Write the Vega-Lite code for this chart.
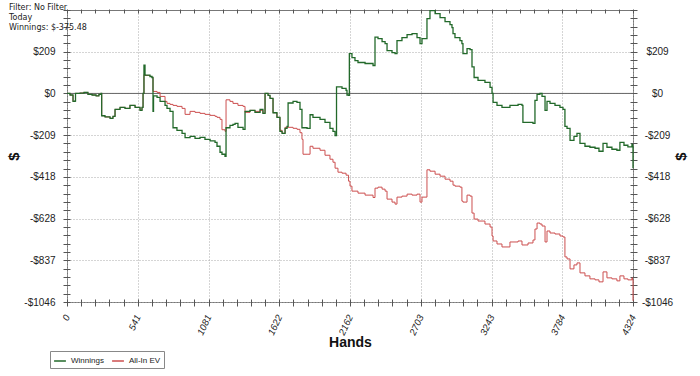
{
  "$schema": "https://vega.github.io/schema/vega-lite/v6.json",
  "width": 566,
  "height": 292,
  "autosize": {"type": "none"},
  "padding": {"left": 67, "top": 10, "right": 67, "bottom": 74},
  "background": "white",
  "config": {"view": {"stroke": "#777", "strokeWidth": 1}, "font": "Liberation Sans"},
  "title": {
    "text": ["Filter: No Filter", "Today", "Winnings: $-375.48"],
    "anchor": "start",
    "frame": "group",
    "orient": "top",
    "offset": -22,
    "dx": -58,
    "dy": 5,
    "font": "DejaVu Sans",
    "fontSize": 8,
    "fontWeight": "normal",
    "lineHeight": 10,
    "color": "#222"
  },
  "datasets": {
    "win": [
      {"h":0,"v":0},{"h":23,"v":-8},{"h":46,"v":-40},{"h":61,"v":-38},{"h":65,"v":0},{"h":99,"v":2},{"h":130,"v":5},{"h":160,"v":-5},{"h":191,"v":-8},{"h":222,"v":-12},{"h":244,"v":-5},{"h":260,"v":0},{"h":265,"v":-112},{"h":290,"v":-118},{"h":329,"v":-125},{"h":351,"v":-115},{"h":367,"v":-80},{"h":405,"v":-70},{"h":443,"v":-75},{"h":481,"v":-60},{"h":520,"v":-70},{"h":558,"v":-85},{"h":573,"v":-70},{"h":581,"v":0},{"h":588,"v":142},{"h":596,"v":92},{"h":634,"v":85},{"h":649,"v":80},{"h":657,"v":-90},{"h":661,"v":-12},{"h":688,"v":-20},{"h":711,"v":-40},{"h":749,"v":-60},{"h":764,"v":-75},{"h":787,"v":-90},{"h":810,"v":-172},{"h":840,"v":-185},{"h":879,"v":-200},{"h":902,"v":-222},{"h":940,"v":-215},{"h":978,"v":-225},{"h":1016,"v":-220},{"h":1054,"v":-230},{"h":1093,"v":-238},{"h":1131,"v":-245},{"h":1146,"v":-265},{"h":1169,"v":-295},{"h":1184,"v":-305},{"h":1207,"v":-315},{"h":1215,"v":-172},{"h":1245,"v":-160},{"h":1268,"v":-155},{"h":1284,"v":-150},{"h":1306,"v":-170},{"h":1345,"v":-180},{"h":1360,"v":-90},{"h":1398,"v":-85},{"h":1436,"v":-95},{"h":1475,"v":-80},{"h":1497,"v":-100},{"h":1513,"v":0},{"h":1536,"v":-10},{"h":1551,"v":-25},{"h":1574,"v":-97},{"h":1604,"v":-120},{"h":1627,"v":-190},{"h":1643,"v":-200},{"h":1666,"v":-175},{"h":1681,"v":-165},{"h":1689,"v":-48},{"h":1727,"v":-40},{"h":1757,"v":-45},{"h":1780,"v":-80},{"h":1795,"v":-172},{"h":1834,"v":-175},{"h":1857,"v":-107},{"h":1879,"v":-120},{"h":1933,"v":-130},{"h":1971,"v":-145},{"h":2009,"v":-175},{"h":2032,"v":-190},{"h":2048,"v":-212},{"h":2059,"v":33},{"h":2101,"v":25},{"h":2132,"v":15},{"h":2139,"v":-8},{"h":2151,"v":-10},{"h":2157,"v":200},{"h":2177,"v":180},{"h":2200,"v":165},{"h":2223,"v":155},{"h":2277,"v":150},{"h":2338,"v":140},{"h":2353,"v":282},{"h":2376,"v":275},{"h":2407,"v":260},{"h":2430,"v":250},{"h":2445,"v":215},{"h":2483,"v":205},{"h":2506,"v":200},{"h":2521,"v":265},{"h":2559,"v":280},{"h":2598,"v":295},{"h":2636,"v":300},{"h":2674,"v":280},{"h":2697,"v":250},{"h":2712,"v":275},{"h":2750,"v":375},{"h":2773,"v":415},{"h":2812,"v":400},{"h":2850,"v":380},{"h":2888,"v":360},{"h":2926,"v":345},{"h":2941,"v":330},{"h":2949,"v":300},{"h":2964,"v":280},{"h":3002,"v":265},{"h":3017,"v":250},{"h":3025,"v":200},{"h":3056,"v":225},{"h":3079,"v":220},{"h":3094,"v":133},{"h":3110,"v":80},{"h":3140,"v":65},{"h":3193,"v":55},{"h":3232,"v":30},{"h":3247,"v":0},{"h":3255,"v":-45},{"h":3285,"v":-60},{"h":3323,"v":-70},{"h":3384,"v":-60},{"h":3446,"v":-55},{"h":3476,"v":-60},{"h":3483,"v":-145},{"h":3522,"v":-145},{"h":3560,"v":-150},{"h":3575,"v":-35},{"h":3591,"v":-5},{"h":3613,"v":0},{"h":3629,"v":-15},{"h":3652,"v":-85},{"h":3667,"v":-40},{"h":3690,"v":-50},{"h":3728,"v":-60},{"h":3766,"v":-70},{"h":3789,"v":-80},{"h":3804,"v":-165},{"h":3820,"v":-175},{"h":3843,"v":-235},{"h":3873,"v":-215},{"h":3896,"v":-200},{"h":3919,"v":-250},{"h":3957,"v":-265},{"h":3995,"v":-270},{"h":4034,"v":-275},{"h":4064,"v":-290},{"h":4095,"v":-250},{"h":4125,"v":-270},{"h":4163,"v":-280},{"h":4201,"v":-285},{"h":4224,"v":-245},{"h":4255,"v":-260},{"h":4285,"v":-268},{"h":4316,"v":-255},{"h":4320,"v":-265},{"h":4324,"v":-375}
    ],
    "ev": [
      {"h":0,"v":0},{"h":23,"v":-8},{"h":46,"v":-40},{"h":61,"v":-38},{"h":65,"v":0},{"h":99,"v":2},{"h":130,"v":5},{"h":160,"v":-5},{"h":191,"v":-8},{"h":222,"v":-12},{"h":244,"v":-5},{"h":260,"v":0},{"h":265,"v":-112},{"h":290,"v":-118},{"h":329,"v":-125},{"h":351,"v":-115},{"h":367,"v":-80},{"h":405,"v":-70},{"h":443,"v":-75},{"h":481,"v":-60},{"h":520,"v":-70},{"h":558,"v":-85},{"h":573,"v":-70},{"h":581,"v":0},{"h":588,"v":95},{"h":596,"v":90},{"h":634,"v":85},{"h":649,"v":80},{"h":657,"v":10},{"h":688,"v":5},{"h":711,"v":-15},{"h":749,"v":-40},{"h":764,"v":-50},{"h":787,"v":-55},{"h":810,"v":-60},{"h":840,"v":-65},{"h":879,"v":-75},{"h":902,"v":-105},{"h":940,"v":-90},{"h":978,"v":-95},{"h":1016,"v":-100},{"h":1054,"v":-105},{"h":1093,"v":-110},{"h":1131,"v":-115},{"h":1146,"v":-120},{"h":1169,"v":-130},{"h":1184,"v":-182},{"h":1207,"v":-190},{"h":1215,"v":-32},{"h":1245,"v":-40},{"h":1268,"v":-50},{"h":1306,"v":-60},{"h":1345,"v":-65},{"h":1360,"v":-95},{"h":1398,"v":-85},{"h":1436,"v":-90},{"h":1475,"v":-85},{"h":1497,"v":-100},{"h":1513,"v":0},{"h":1536,"v":-10},{"h":1551,"v":-25},{"h":1574,"v":-97},{"h":1604,"v":-120},{"h":1627,"v":-185},{"h":1643,"v":-200},{"h":1666,"v":-170},{"h":1727,"v":-175},{"h":1757,"v":-180},{"h":1780,"v":-197},{"h":1795,"v":-230},{"h":1803,"v":-305},{"h":1834,"v":-305},{"h":1857,"v":-265},{"h":1879,"v":-275},{"h":1933,"v":-285},{"h":1971,"v":-310},{"h":2009,"v":-330},{"h":2032,"v":-345},{"h":2048,"v":-375},{"h":2070,"v":-395},{"h":2101,"v":-400},{"h":2132,"v":-410},{"h":2151,"v":-440},{"h":2162,"v":-465},{"h":2177,"v":-490},{"h":2223,"v":-500},{"h":2277,"v":-510},{"h":2338,"v":-522},{"h":2353,"v":-475},{"h":2376,"v":-470},{"h":2407,"v":-480},{"h":2430,"v":-490},{"h":2445,"v":-530},{"h":2483,"v":-545},{"h":2506,"v":-555},{"h":2521,"v":-520},{"h":2559,"v":-515},{"h":2598,"v":-505},{"h":2636,"v":-510},{"h":2674,"v":-505},{"h":2697,"v":-545},{"h":2712,"v":-520},{"h":2750,"v":-383},{"h":2773,"v":-390},{"h":2812,"v":-405},{"h":2850,"v":-415},{"h":2888,"v":-430},{"h":2926,"v":-440},{"h":2949,"v":-460},{"h":2964,"v":-465},{"h":3002,"v":-470},{"h":3017,"v":-540},{"h":3025,"v":-545},{"h":3056,"v":-510},{"h":3079,"v":-515},{"h":3094,"v":-600},{"h":3110,"v":-630},{"h":3140,"v":-640},{"h":3193,"v":-655},{"h":3232,"v":-670},{"h":3247,"v":-715},{"h":3255,"v":-740},{"h":3285,"v":-755},{"h":3323,"v":-770},{"h":3384,"v":-745},{"h":3446,"v":-740},{"h":3476,"v":-760},{"h":3522,"v":-750},{"h":3560,"v":-735},{"h":3575,"v":-680},{"h":3591,"v":-650},{"h":3613,"v":-655},{"h":3629,"v":-665},{"h":3652,"v":-745},{"h":3667,"v":-690},{"h":3690,"v":-700},{"h":3728,"v":-705},{"h":3766,"v":-715},{"h":3789,"v":-720},{"h":3804,"v":-820},{"h":3820,"v":-830},{"h":3843,"v":-880},{"h":3873,"v":-860},{"h":3896,"v":-850},{"h":3919,"v":-900},{"h":3957,"v":-915},{"h":3995,"v":-930},{"h":4034,"v":-935},{"h":4064,"v":-945},{"h":4095,"v":-895},{"h":4125,"v":-925},{"h":4163,"v":-930},{"h":4201,"v":-940},{"h":4224,"v":-915},{"h":4255,"v":-930},{"h":4285,"v":-935},{"h":4316,"v":-925},{"h":4320,"v":-935},{"h":4324,"v":-1040}
    ]
  },
  "layer": [
    {
      "data": {"values": [{}]},
      "mark": {"type": "rule", "color": "#666", "strokeWidth": 1},
      "encoding": {
        "y": {"datum": 0, "type": "quantitative", "scale": {"domain": [-1046, 418.4], "nice": false, "zero": false}, "axis": null}
      }
    },
    {
      "data": {"name": "ev"},
      "mark": {"type": "line", "strokeWidth": 1, "interpolate": "step-after"},
      "encoding": {
        "x": {
          "field": "h", "type": "quantitative",
          "scale": {"domain": [0, 4324], "nice": false, "zero": false},
          "axis": {
            "orient": "top", "labels": false, "title": null, "grid": false, "domain": false,
            "offset": -3, "ticks": true,
            "values": [0,108.1,216.2,324.3,432.4,540.5,648.6,756.7,864.8,972.9,1081,1189.1,1297.2,1405.3,1513.4,1621.5,1729.6,1837.7,1945.8,2053.9,2162,2270.1,2378.2,2486.3,2594.4,2702.5,2810.6,2918.7,3026.8,3134.9,3243,3351.1,3459.2,3567.3,3675.4,3783.5,3891.6,3999.7,4107.8,4215.9,4324],
            "tickSize": 4, "tickWidth": 1, "tickColor": "#555", "tickOpacity": 1
          }
        },
        "y": {
          "field": "v", "type": "quantitative",
          "scale": {"domain": [-1046, 418.4], "nice": false, "zero": false},
          "axis": {
            "orient": "right", "grid": false, "domain": false, "offset": -3, "ticks": true,
            "values": [-1046,-1004.16,-962.32,-920.48,-878.64,-836.8,-794.96,-753.12,-711.28,-669.44,-627.6,-585.76,-543.92,-502.08,-460.24,-418.4,-376.56,-334.72,-292.88,-251.04,-209.2,-167.36,-125.52,-83.68,-41.84,0,41.84,83.68,125.52,167.36,209.2,251.04,292.88,334.72,376.56,418.4],
            "labelExpr": "(abs(datum.value/209.2 - round(datum.value/209.2)) < 0.01 && datum.value < 400) ? ((datum.value < -0.5 ? '-$' : '$') + format(abs(datum.value), '.0f')) : ''",
            "labelFontSize": 10, "labelColor": "#222", "labelPadding": 20, "labelAlign": "center", "labelOverlap": false,
            "tickSize": 7, "tickWidth": 1, "tickColor": "#555", "tickOpacity": 1,
            "title": "$", "titleAngle": -90, "titleFontSize": 15, "titleFontWeight": "bold", "titleColor": "#111", "titlePadding": 16
          }
        },
        "color": {
          "datum": "All-In EV",
          "scale": {"domain": ["Winnings", "All-In EV"], "range": ["#22692a", "#cc4f4f"]},
          "legend": {
            "orient": "none", "legendX": -17, "legendY": 341, "direction": "horizontal", "title": null,
            "symbolType": "stroke", "symbolStrokeWidth": 1.5, "symbolSize": 140,
            "strokeColor": "#888", "fillColor": "white", "padding": 3,
            "labelFontSize": 8, "labelColor": "#222", "labelOffset": 4, "columnPadding": 5
          }
        }
      }
    },
    {
      "data": {"name": "win"},
      "mark": {"type": "line", "strokeWidth": 1.3, "interpolate": "step-after"},
      "encoding": {
        "x": {
          "field": "h", "type": "quantitative",
          "scale": {"domain": [0, 4324], "nice": false, "zero": false},
          "axis": {
            "orient": "bottom", "domain": false, "offset": -3, "ticks": true,
            "values": [0,108.1,216.2,324.3,432.4,540.5,648.6,756.7,864.8,972.9,1081,1189.1,1297.2,1405.3,1513.4,1621.5,1729.6,1837.7,1945.8,2053.9,2162,2270.1,2378.2,2486.3,2594.4,2702.5,2810.6,2918.7,3026.8,3134.9,3243,3351.1,3459.2,3567.3,3675.4,3783.5,3891.6,3999.7,4107.8,4215.9,4324],
            "labelExpr": "abs(datum.value/540.5 - round(datum.value/540.5)) < 0.01 ? format(datum.value, '.0f') : ''",
            "labelAngle": -65, "labelFontSize": 9.5, "labelColor": "#222", "labelFontStyle": "italic", "labelPadding": 9, "labelOverlap": false, "labelBound": false, "labelFlush": false,
            "tickSize": 7, "tickWidth": 1, "tickColor": "#555", "tickOpacity": 1,
            "grid": true, "gridDash": [1, 2], "gridColor": "#aaa",
            "gridOpacity": {"condition": {"test": "abs(datum.value/540.5 - round(datum.value/540.5)) < 0.01", "value": 1}, "value": 0},
            "title": "Hands", "titleFontSize": 14, "titleFontWeight": "bold", "titleColor": "#111", "titlePadding": -1
          }
        },
        "y": {
          "field": "v", "type": "quantitative",
          "scale": {"domain": [-1046, 418.4], "nice": false, "zero": false},
          "axis": {
            "orient": "left", "domain": false, "offset": -3, "ticks": true,
            "values": [-1046,-1004.16,-962.32,-920.48,-878.64,-836.8,-794.96,-753.12,-711.28,-669.44,-627.6,-585.76,-543.92,-502.08,-460.24,-418.4,-376.56,-334.72,-292.88,-251.04,-209.2,-167.36,-125.52,-83.68,-41.84,0,41.84,83.68,125.52,167.36,209.2,251.04,292.88,334.72,376.56,418.4],
            "labelExpr": "(abs(datum.value/209.2 - round(datum.value/209.2)) < 0.01 && datum.value < 400) ? ((datum.value < -0.5 ? '-$' : '$') + format(abs(datum.value), '.0f')) : ''",
            "labelFontSize": 10, "labelColor": "#222", "labelPadding": 8, "labelOverlap": false,
            "tickSize": 7, "tickWidth": 1, "tickColor": "#555", "tickOpacity": 1,
            "grid": true, "gridDash": [1, 2], "gridColor": "#aaa",
            "gridOpacity": {"condition": {"test": "abs(datum.value/209.2 - round(datum.value/209.2)) < 0.01 && datum.value < 400", "value": 1}, "value": 0},
            "title": "$", "titleAngle": -90, "titleFontSize": 15, "titleFontWeight": "bold", "titleColor": "#111", "titlePadding": 2
          }
        },
        "color": {
          "datum": "Winnings",
          "scale": {"domain": ["Winnings", "All-In EV"], "range": ["#22692a", "#cc4f4f"]}
        }
      }
    }
  ],
  "resolve": {"axis": {"x": "independent", "y": "independent"}}
}
